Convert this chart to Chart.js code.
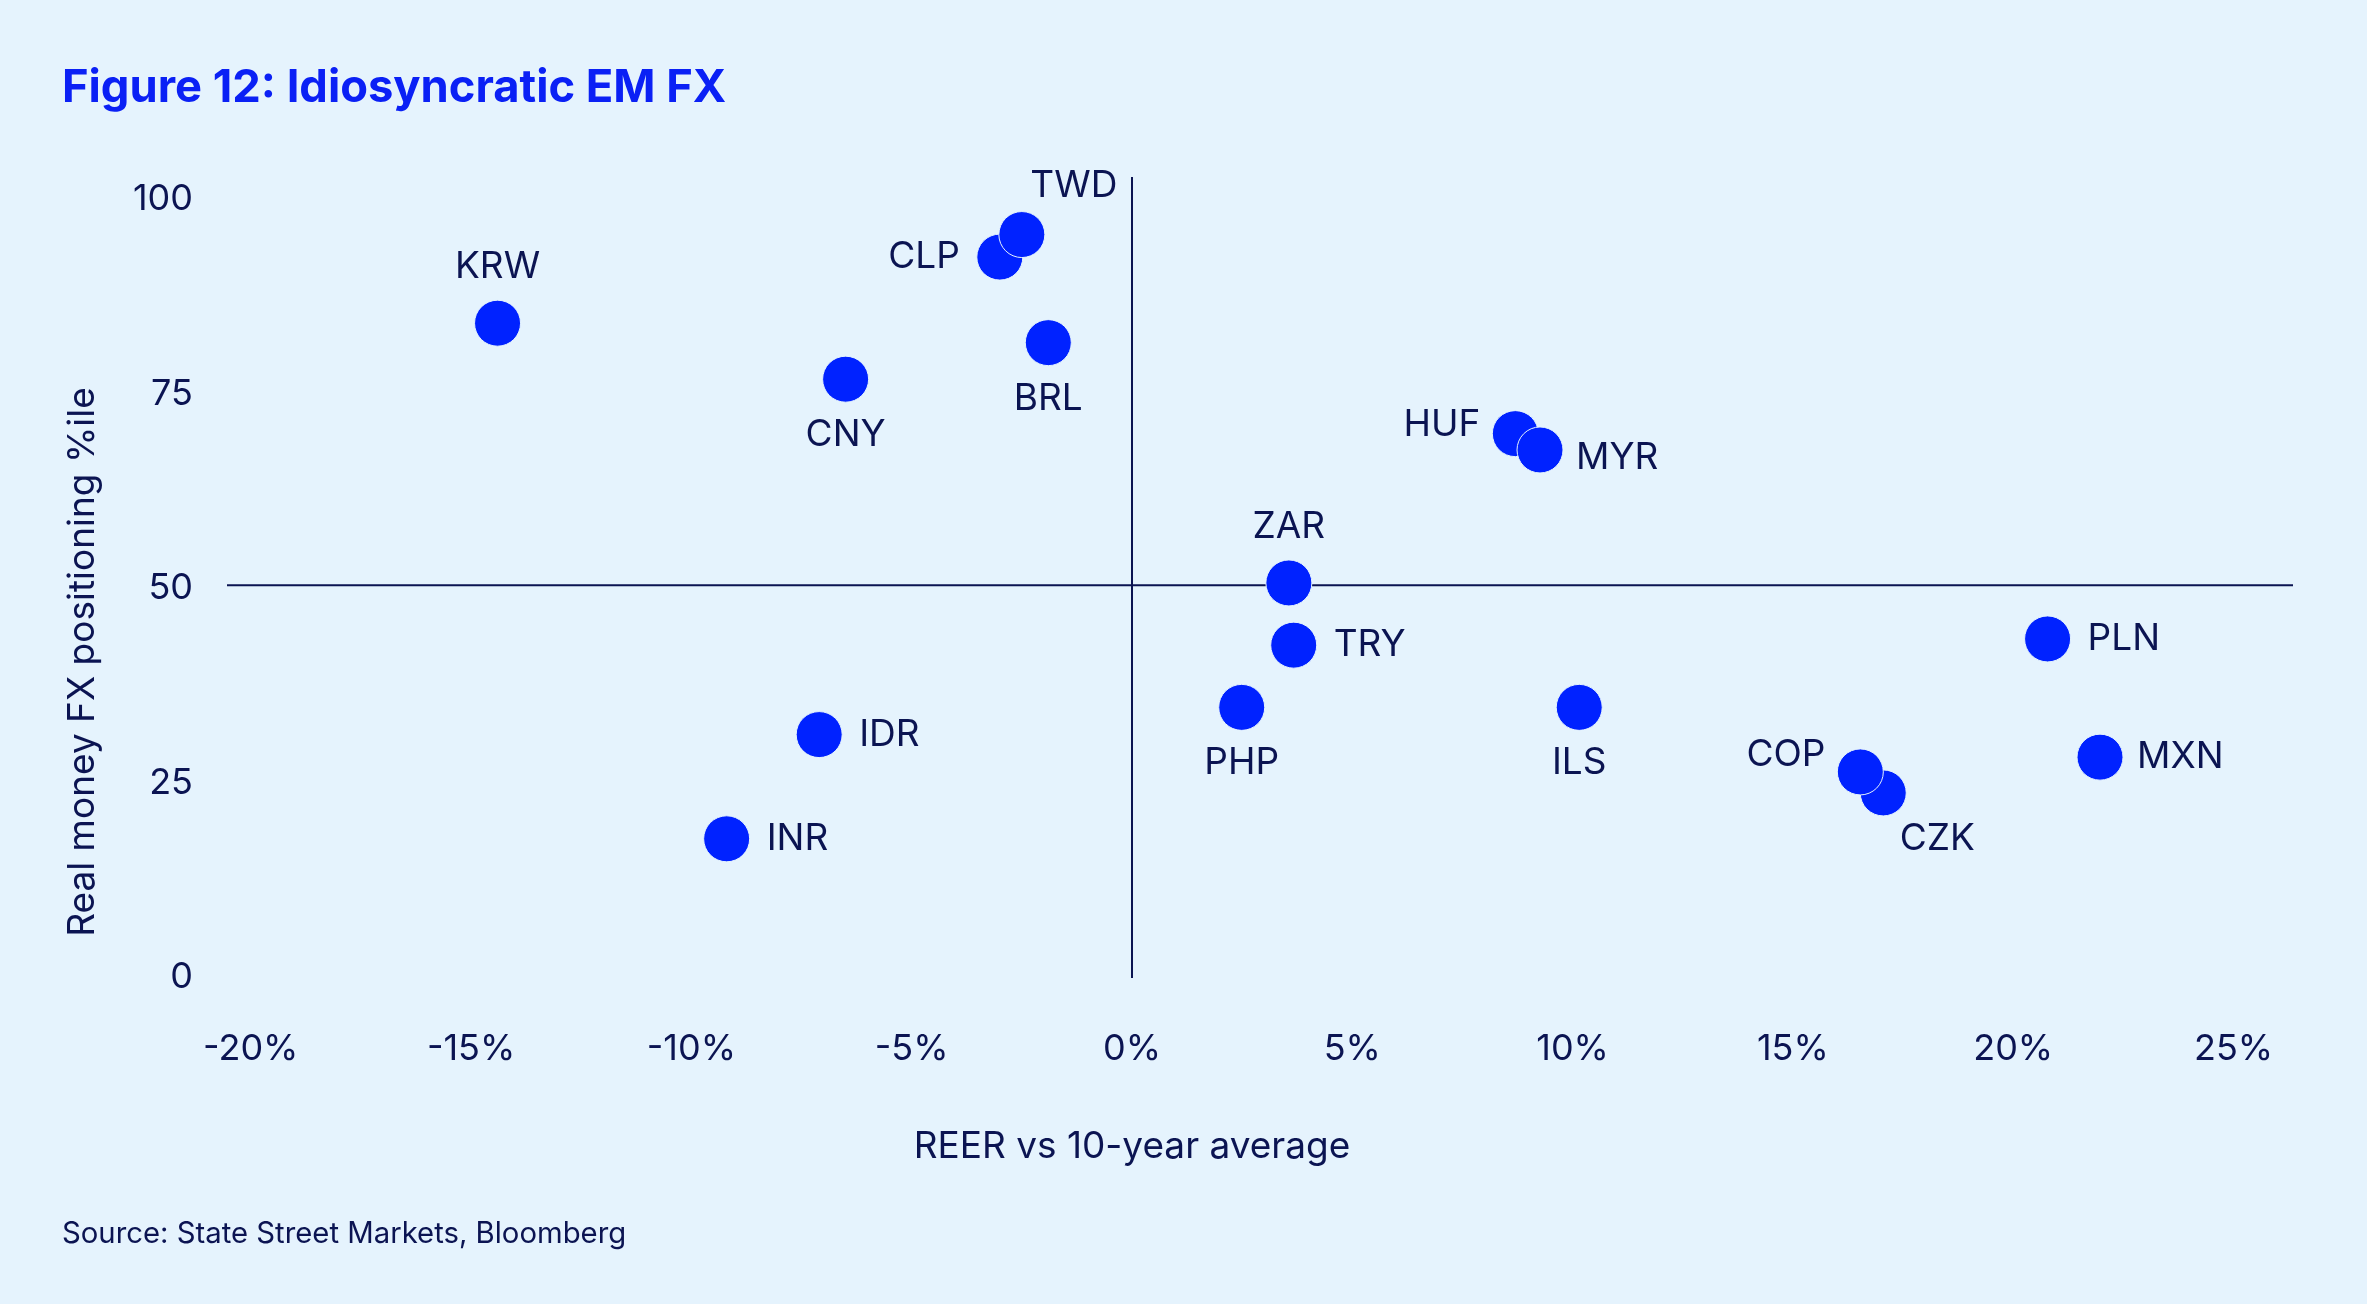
<!DOCTYPE html>
<html>
<head>
<meta charset="utf-8">
<title>Figure 12: Idiosyncratic EM FX</title>
<script src="https://cdn.jsdelivr.net/npm/chart.js"></script>
<style>
    html, body {
        margin: 0;
        padding: 0;
        background: #e5f3fd;
    }
    canvas {
        display: block;
    }
</style>
</head>
<body>
<canvas id="fxChart" width="2367" height="1304"></canvas>
<script>
// Data
const currencies = ['KRW', 'CNY', 'CLP', 'TWD', 'BRL', 'IDR', 'INR', 'ZAR', 'TRY', 'PHP', 'HUF', 'MYR', 'ILS', 'CZK', 'COP', 'PLN', 'MXN'];
const reerVsAvg = [-14.4, -6.5, -3.0, -2.5, -1.9, -7.1, -9.2, 3.56, 3.67, 2.49, 8.7, 9.26, 10.15, 17.05, 16.53, 20.78, 21.97];
const positioning = [83.7, 76.5, 92.2, 95.1, 81.2, 30.8, 17.4, 50.3, 42.3, 34.3, 69.5, 67.4, 34.3, 23.3, 26.0, 43.1, 27.9];
const labelSide = ['above', 'below', 'left', 'aboveRight', 'below', 'right', 'right', 'above', 'right', 'below', 'leftUp', 'rightDown', 'below', 'belowRight', 'leftUpMore', 'right', 'rightNear'];
const xTickValues = [-20, -15, -10, -5, 0, 5, 10, 15, 20, 25];
const yTickValues = [0, 25, 50, 75, 100];

const NAVY = '#0b1452';
const BLUE = '#0022ff';
const FONT = 'Inter, "Noto Sans", sans-serif';

// label offsets from the point centre
const sideOffsets = {
    above:      { dx: 0,   dy: -56, align: 'center' },
    below:      { dx: 0,   dy: 56,  align: 'center' },
    left:       { dx: -40, dy: 0,   align: 'right' },
    right:      { dx: 40,  dy: 0,   align: 'left' },
    rightNear:  { dx: 37,  dy: 0,   align: 'left' },
    aboveRight: { dx: 52,  dy: -49, align: 'center' },
    belowRight: { dx: 54,  dy: 46,  align: 'center' },
    leftUp:     { dx: -35, dy: -9,  align: 'right' },
    leftUpMore: { dx: -35, dy: -17, align: 'right' },
    rightDown:  { dx: 36,  dy: 8,   align: 'left' }
};

const crossLines = {
    id: 'crossLines',
    beforeDatasetsDraw(chart) {
        const { ctx, chartArea, scales } = chart;
        const x0 = scales.x.getPixelForValue(0);
        const y50 = scales.y.getPixelForValue(50);
        ctx.save();
        ctx.strokeStyle = NAVY;
        ctx.lineWidth = 2;
        ctx.beginPath();
        ctx.moveTo(chartArea.left, y50);
        ctx.lineTo(chartArea.right, y50);
        ctx.moveTo(x0, chartArea.top);
        ctx.lineTo(x0, chartArea.bottom);
        ctx.stroke();
        ctx.restore();
    }
};

const pointLabels = {
    id: 'pointLabels',
    afterDatasetsDraw(chart) {
        const { ctx } = chart;
        const meta = chart.getDatasetMeta(0);
        ctx.save();
        ctx.fillStyle = NAVY;
        ctx.font = '37px ' + FONT;
        ctx.textBaseline = 'middle';
        meta.data.forEach((pt, i) => {
            const o = sideOffsets[labelSide[i]];
            ctx.textAlign = o.align;
            ctx.fillText(currencies[i], pt.x + o.dx, pt.y + o.dy);
        });
        ctx.restore();
    }
};

const figureText = {
    id: 'figureText',
    afterDraw(chart) {
        const { ctx, scales } = chart;
        ctx.save();
        // title
        ctx.fillStyle = '#0a20f5';
        ctx.font = 'bold 45.3px ' + FONT;
        ctx.textAlign = 'left';
        ctx.textBaseline = 'middle';
        ctx.fillText('Figure 12: Idiosyncratic EM FX', 62, 88);
        // source
        ctx.fillStyle = NAVY;
        ctx.font = '29.3px ' + FONT;
        ctx.fillText('Source: State Street Markets, Bloomberg', 62, 1234);
        // axis titles
        ctx.font = '37px ' + FONT;
        ctx.textAlign = 'center';
        ctx.fillText('REER vs 10-year average', scales.x.getPixelForValue(0), 1147);
        ctx.translate(83, 662);
        ctx.rotate(-Math.PI / 2);
        ctx.fillText('Real money FX positioning %ile', 0, 0);
        ctx.restore();
    }
};

new Chart(document.getElementById('fxChart'), {
    type: 'scatter',
    data: {
        datasets: [{
            label: 'EM FX',
            data: currencies.map((c, i) => ({ x: reerVsAvg[i], y: positioning[i] })),
            backgroundColor: BLUE,
            borderColor: '#e5f3fd',
            borderWidth: 1,
            pointRadius: 23,
            pointHoverRadius: 23
        }]
    },
    options: {
        responsive: false,
        animation: false,
        devicePixelRatio: 1,
        layout: {
            padding: { left: 127, right: 74, top: 177, bottom: 226 }
        },
        plugins: {
            legend: { display: false },
            tooltip: { enabled: false }
        },
        scales: {
            x: {
                type: 'linear',
                min: -20.54,
                max: 26.35,
                afterBuildTicks: s => { s.ticks = xTickValues.map(v => ({ value: v })); },
                afterFit: s => { s.height = 100; },
                grid: { display: false, drawTicks: false },
                border: { display: false },
                ticks: {
                    color: NAVY,
                    font: { family: FONT, size: 36 },
                    padding: 50,
                    maxRotation: 0,
                    callback: v => v + '%'
                }
            },
            y: {
                type: 'linear',
                min: -0.5,
                max: 102.5,
                afterBuildTicks: s => { s.ticks = yTickValues.map(v => ({ value: v })); },
                afterFit: s => { s.width = 100; },
                grid: { display: false, drawTicks: false },
                border: { display: false },
                ticks: {
                    color: NAVY,
                    font: { family: FONT, size: 36 },
                    padding: 34,
                    labelOffset: 3
                }
            }
        }
    },
    plugins: [crossLines, pointLabels, figureText]
});
</script>
</body>
</html>
